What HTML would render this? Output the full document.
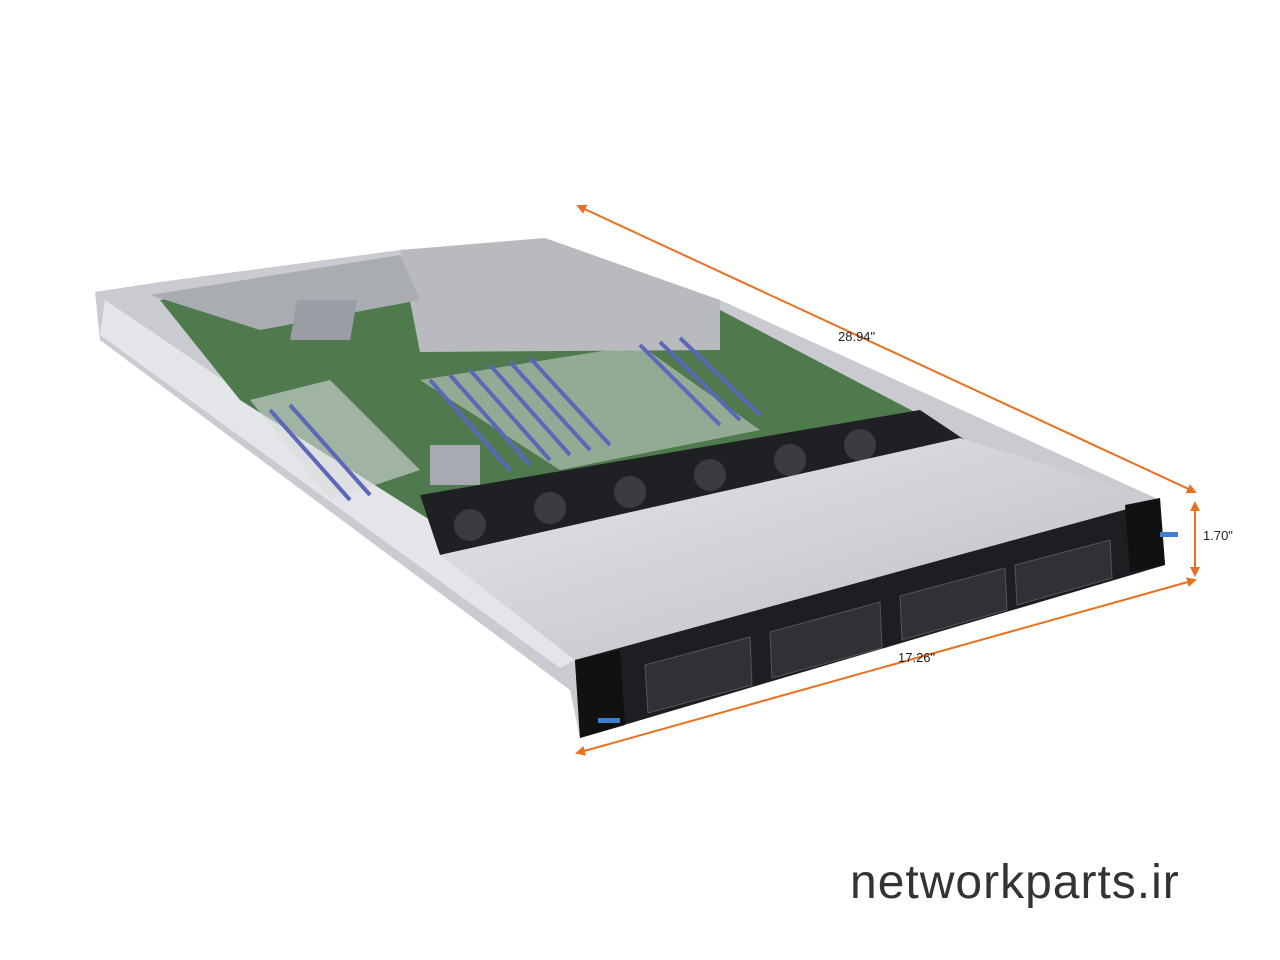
<!DOCTYPE html>
<html><head><meta charset="utf-8"><style>
html,body{margin:0;padding:0;background:#fff;width:1280px;height:960px;overflow:hidden}
svg{display:block}
text{font-family:"Liberation Sans",sans-serif}
</style></head><body>
<svg width="1280" height="960" viewBox="0 0 1280 960" xmlns="http://www.w3.org/2000/svg">
<defs>
<marker id="a" markerWidth="10" markerHeight="10" refX="8" refY="5" orient="auto-start-reverse" markerUnits="userSpaceOnUse">
<path d="M0,0 L10,5 L0,10 z" fill="#e8701f"/></marker>
<linearGradient id="cov" x1="0" y1="0" x2="1" y2="1"><stop offset="0" stop-color="#e6e7ea"/><stop offset="1" stop-color="#b9bcc2"/></linearGradient>
</defs>
<polygon points="95,292 160,282 400,250 720,300 1160,500 1165,565 580,738 570,690 100,340" fill="#c9cbd0"/>
<polygon points="105,300 430,520 575,660 560,668 100,335" fill="#e4e5e8"/>
<polygon points="160,300 400,262 720,310 930,420 430,520 240,400" fill="#4f7a4e"/>
<polygon points="250,400 330,380 420,470 330,500" fill="#d8dadc" opacity="0.6"/>
<polygon points="420,380 640,345 760,430 560,470" fill="#d8dadc" opacity="0.5"/>
<polygon points="400,250 545,238 720,300 720,350 420,352" fill="#b8babe"/>
<polygon points="150,295 400,255 420,300 260,330" fill="#a9acb1"/>
<g stroke="#5b68b8" stroke-width="4">
<line x1="430" y1="380" x2="510" y2="470"/><line x1="450" y1="375" x2="530" y2="465"/><line x1="470" y1="370" x2="550" y2="460"/><line x1="490" y1="365" x2="570" y2="455"/><line x1="510" y1="362" x2="590" y2="450"/><line x1="530" y1="358" x2="610" y2="445"/>
<line x1="640" y1="345" x2="720" y2="425"/><line x1="660" y1="342" x2="740" y2="420"/><line x1="680" y1="338" x2="760" y2="415"/>
<line x1="270" y1="410" x2="350" y2="500"/><line x1="290" y1="405" x2="370" y2="495"/>
</g>
<rect x="350" y="300" width="60" height="40" fill="#9a9da3" transform="skewX(-10)"/>
<rect x="430" y="445" width="50" height="40" fill="#a7aab0"/>
<polygon points="420,495 920,410 965,440 440,555" fill="#1f2023"/>
<g fill="#3a3c40">
<circle cx="470" cy="525" r="16"/><circle cx="550" cy="508" r="16"/><circle cx="630" cy="492" r="16"/><circle cx="710" cy="475" r="16"/><circle cx="790" cy="460" r="16"/><circle cx="860" cy="445" r="16"/>
</g>
<polygon points="440,555 960,438 1160,500 575,660" fill="url(#cov)"/>
<polygon points="575,660 1160,500 1165,565 580,738" fill="#1d1e21"/>
<polygon points="575,660 620,650 625,725 580,738" fill="#111"/>
<polygon points="1125,505 1160,498 1165,565 1130,572" fill="#111"/>
<g fill="#2f3136" stroke="#555" stroke-width="1">
<polygon points="645,665 750,637 752,685 648,713"/><polygon points="770,632 880,602 882,648 772,678"/><polygon points="900,596 1005,568 1007,610 902,640"/><polygon points="1015,565 1110,540 1112,578 1017,605"/>
</g>
<rect x="598" y="718" width="22" height="5" fill="#3d7fd0"/><rect x="1160" y="532" width="18" height="5" fill="#3d7fd0"/>
<g stroke="#e8701f" stroke-width="2" fill="none">
<line x1="578" y1="206" x2="1195" y2="492" marker-end="url(#a)" marker-start="url(#a)"/>
<line x1="1195" y1="503" x2="1195" y2="575" marker-end="url(#a)" marker-start="url(#a)"/>
<line x1="1195" y1="580" x2="577" y2="753" marker-end="url(#a)" marker-start="url(#a)"/>
</g>
<text x="838" y="341" font-size="13" fill="#222">28.94"</text>
<text x="1203" y="540" font-size="13" fill="#222">1.70"</text>
<text x="898" y="662" font-size="13" fill="#222">17.26"</text>
<text x="850" y="898" font-size="48" fill="#333" letter-spacing="1">networkparts.ir</text>
</svg>
</body></html>
